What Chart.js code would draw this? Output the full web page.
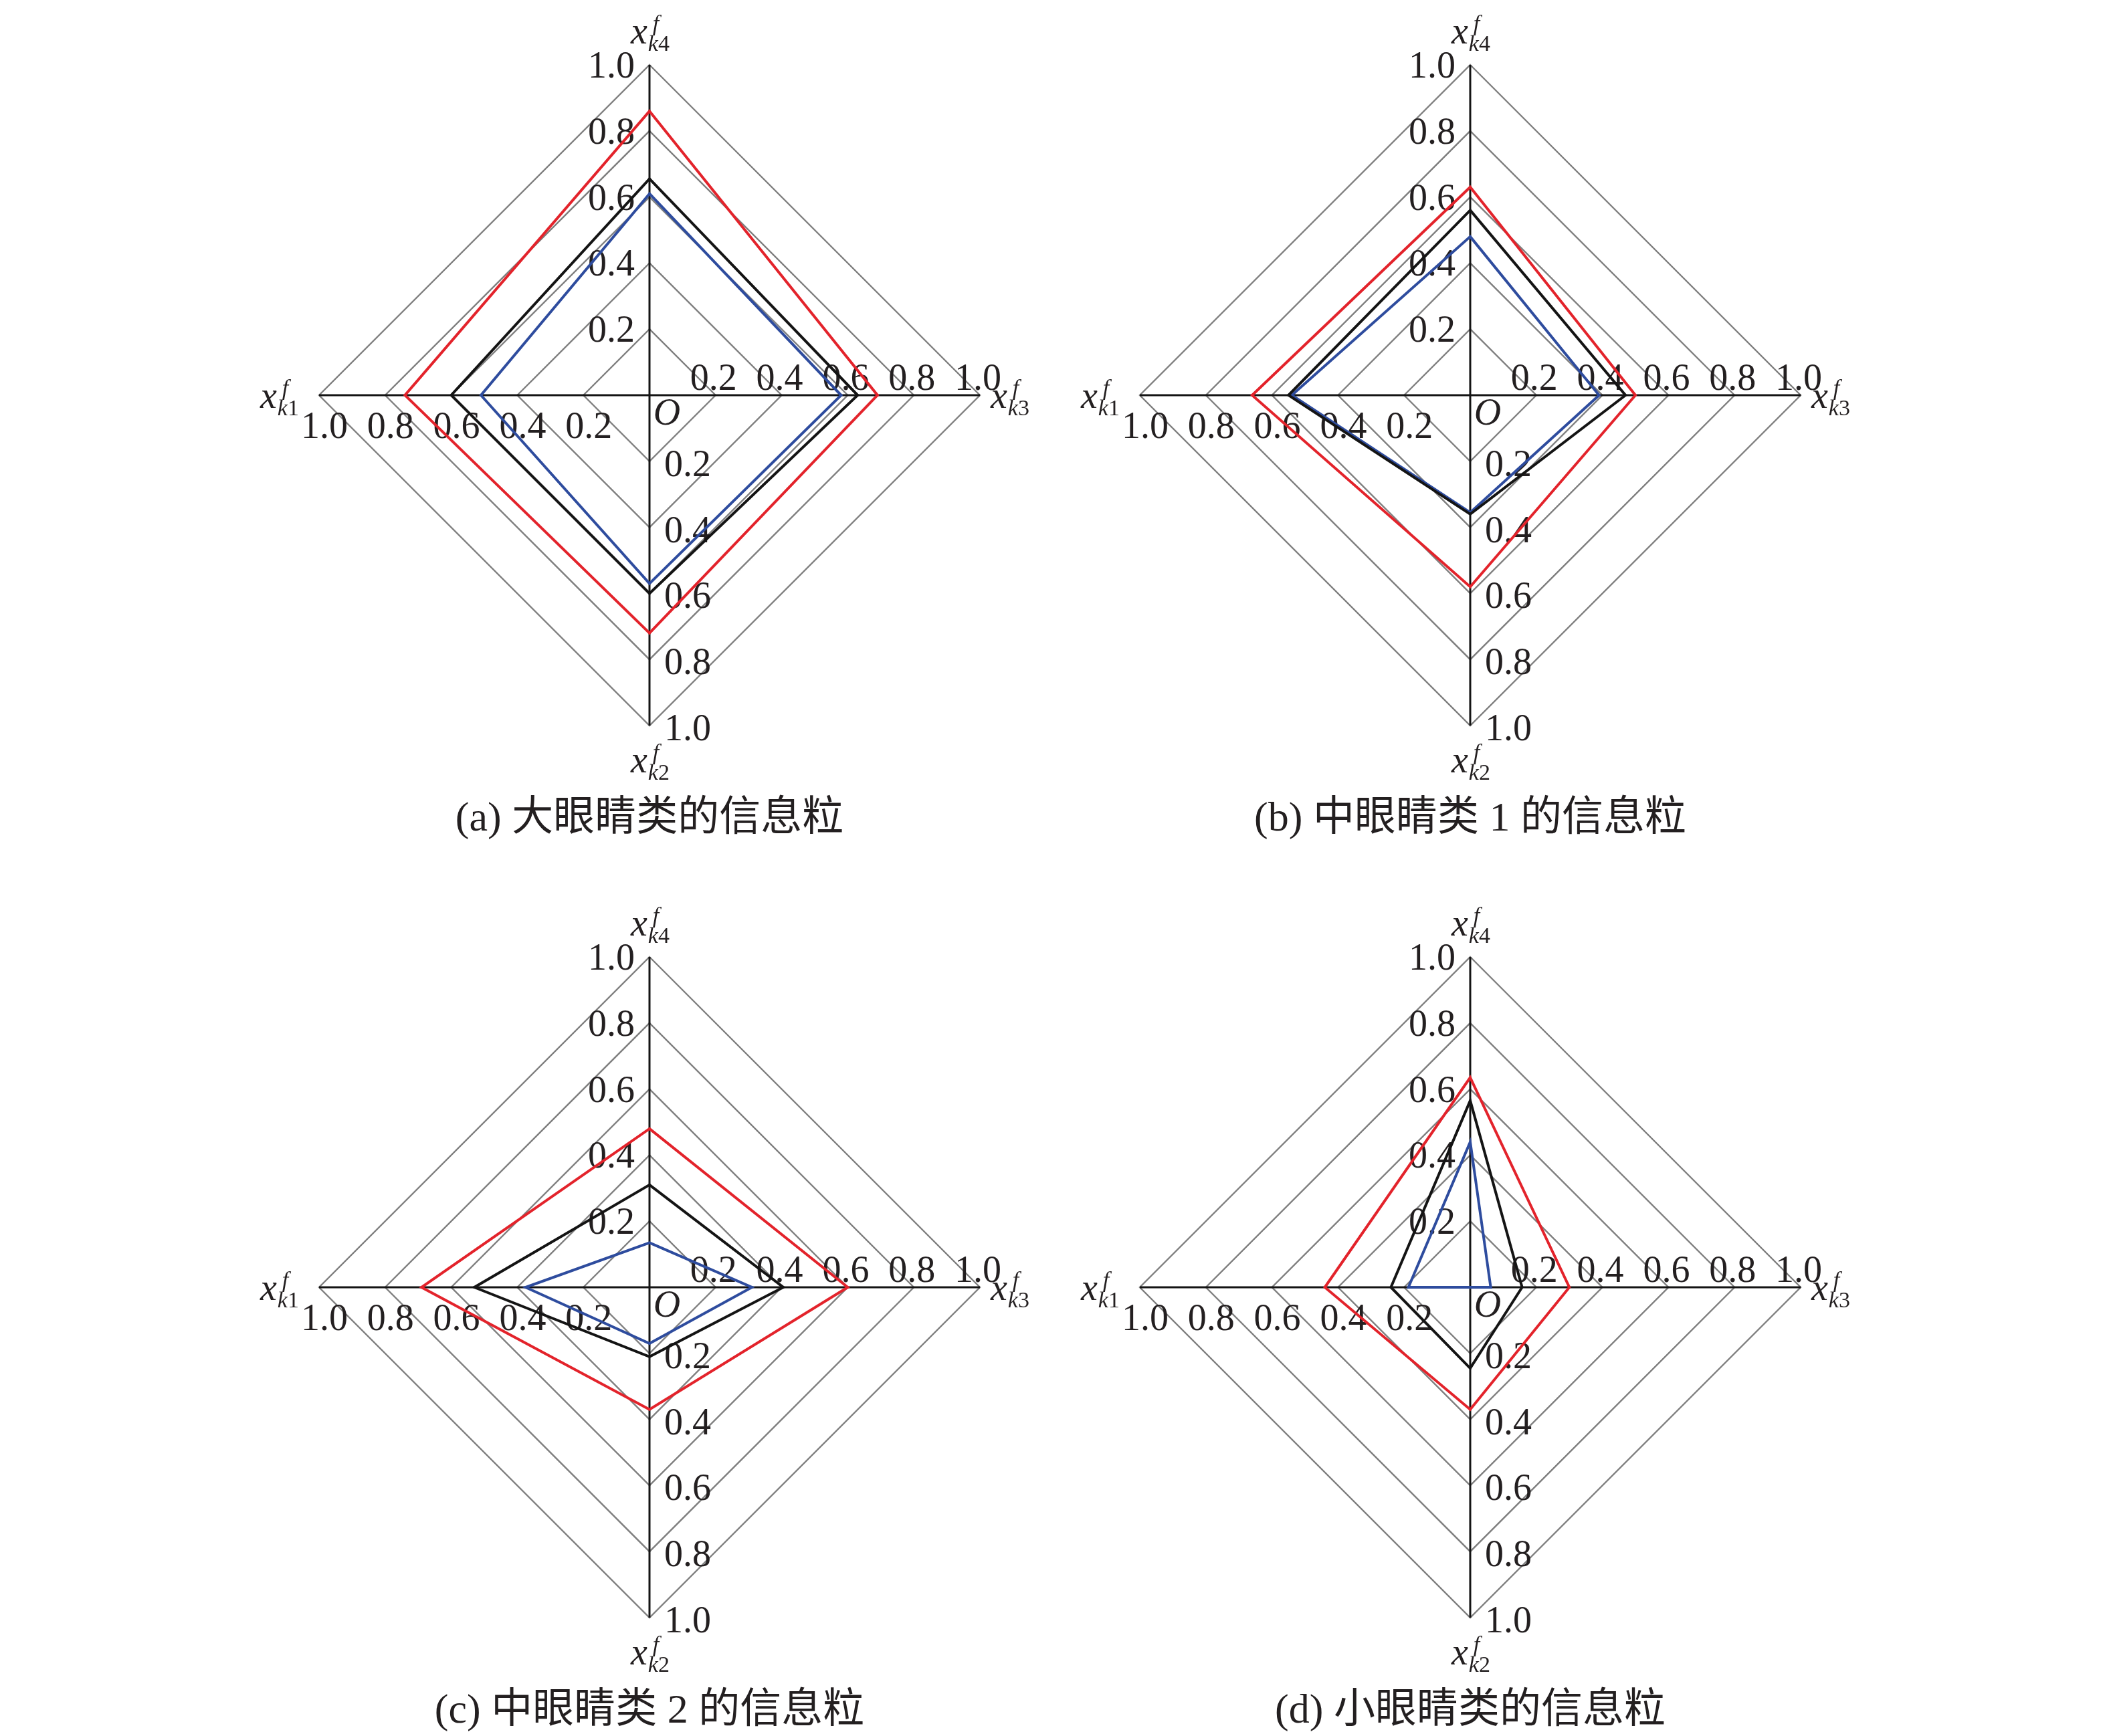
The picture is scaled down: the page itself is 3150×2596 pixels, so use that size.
<!DOCTYPE html>
<html>
<head>
<meta charset="utf-8">
<script src="https://cdn.jsdelivr.net/npm/chart.js@4.4.1/dist/chart.umd.min.js"></script>
<style>
  html, body { margin: 0; padding: 0; background: #fff; }
  body { width: 3150px; height: 2596px; position: relative; overflow: hidden; }
  canvas { position: absolute; }
  .caption {
    position: absolute; width: 1000px; text-align: center;
    font: 62px "Liberation Serif", "Noto Sans CJK SC", serif;
    line-height: 62px; color: #231f20; white-space: pre;
  }
</style>
</head>
<body>
<canvas id="chartA" width="1300" height="1240"></canvas>
<canvas id="chartB" width="1300" height="1240"></canvas>
<canvas id="chartC" width="1300" height="1240"></canvas>
<canvas id="chartD" width="1300" height="1240"></canvas>
<div class="caption" id="capA"></div>
<div class="caption" id="capB"></div>
<div class="caption" id="capC"></div>
<div class="caption" id="capD"></div>

<script>
// ── Data ─────────────────────────────────────────────────
// radar order (clockwise from top): x_k4, x_k3, x_k2, x_k1
const axisNames = ['x_k4', 'x_k3', 'x_k2', 'x_k1'];
const axisSubs  = ['4', '3', '2', '1'];
const tickValues = [0.2, 0.4, 0.6, 0.8, 1.0];
const tickLabels = ['0.2', '0.4', '0.6', '0.8', '1.0'];

const captions = [
  '(a) 大眼睛类的信息粒',
  '(b) 中眼睛类 1 的信息粒',
  '(c) 中眼睛类 2 的信息粒',
  '(d) 小眼睛类的信息粒'
];

// (a) large eyes
const redA   = [0.86, 0.69, 0.72, 0.74];
const blackA = [0.655, 0.63, 0.60, 0.60];
const blueA  = [0.61, 0.58, 0.57, 0.51];
// (b) medium eyes 1
const redB   = [0.63, 0.50, 0.58, 0.66];
const blackB = [0.56, 0.47, 0.36, 0.55];
const blueB  = [0.48, 0.39, 0.355, 0.54];
// (c) medium eyes 2
const redC   = [0.48, 0.60, 0.37, 0.69];
const blackC = [0.31, 0.405, 0.21, 0.53];
const blueC  = [0.135, 0.31, 0.17, 0.375];
// (d) small eyes
const redD   = [0.635, 0.30, 0.37, 0.44];
const blackD = [0.565, 0.157, 0.245, 0.24];
const blueD  = [0.44, 0.062, 0.0, 0.187];

// ── Colours ──────────────────────────────────────────────
const COLOR_RED   = '#e3232b';
const COLOR_BLACK = '#141414';
const COLOR_BLUE  = '#2e4c9e';
const COLOR_GRID  = '#7f7f7f';
const COLOR_TEXT  = '#231f20';

const SERIF = '"Liberation Serif", "Times New Roman", serif';

// ── Label plugin: tick numbers on all four axes, axis names, origin ──
function drawVarLabel(ctx, sub, x, y) {
  ctx.textAlign = 'left';
  ctx.textBaseline = 'alphabetic';
  ctx.font = 'italic 56px ' + SERIF;
  ctx.fillText('x', x, y);
  const w = ctx.measureText('x').width;
  ctx.font = 'italic 34px ' + SERIF;
  ctx.fillText('f', x + w + 8, y - 19);
  ctx.fillText('k', x + w + 1, y + 11);
  const kw = ctx.measureText('k').width;
  ctx.font = '34px ' + SERIF;
  ctx.fillText(sub, x + w + 1 + kw, y + 11);
}

const labelPlugin = {
  id: 'radarLabels',
  beforeDatasetsDraw(chart) {
    const ctx = chart.ctx;
    const r = chart.scales.r;
    const cx = r.xCenter, cy = r.yCenter;
    ctx.save();
    ctx.fillStyle = COLOR_TEXT;
    ctx.font = '56px ' + SERIF;
    ctx.textBaseline = 'alphabetic';

    tickValues.forEach((v, j) => {
      const txt = tickLabels[j];
      for (let i = 0; i < axisNames.length; i++) {
        const p = r.getPointPositionForValue(i, v);
        if (i === 0) {
          ctx.textAlign = 'right';
          ctx.fillText(txt, p.x - 22, p.y + 19);
        } else if (i === 1) {
          ctx.textAlign = 'center';
          ctx.fillText(txt, p.x - 3, p.y - 8);
        } else if (i === 2) {
          ctx.textAlign = 'left';
          ctx.fillText(txt, p.x + 22, p.y + 22);
        } else {
          ctx.textAlign = 'center';
          ctx.fillText(txt, p.x + 8, p.y + 64);
        }
      }
    });

    // origin
    ctx.font = 'italic 56px ' + SERIF;
    ctx.textAlign = 'center';
    ctx.fillText('O', cx + 26, cy + 44);

    // axis names
    const top = r.getPointPositionForValue(0, 1);
    const right = r.getPointPositionForValue(1, 1);
    const bottom = r.getPointPositionForValue(2, 1);
    const left = r.getPointPositionForValue(3, 1);
    drawVarLabel(ctx, axisSubs[0], cx - 28, top.y - 32);
    drawVarLabel(ctx, axisSubs[1], right.x + 16, cy + 19);
    drawVarLabel(ctx, axisSubs[2], cx - 28, bottom.y + 70);
    drawVarLabel(ctx, axisSubs[3], left.x - 88, cy + 19);
    ctx.restore();
  }
};

// ── Panel builder ────────────────────────────────────────
function makeRadar(id, red, black, blue) {
  const ds = (data, color) => ({
    data: data,
    borderColor: color,
    backgroundColor: 'transparent',
    borderWidth: 4,
    fill: false,
    pointRadius: 0,
    tension: 0
  });

  return new Chart(document.getElementById(id), {
    type: 'radar',
    data: {
      labels: axisNames,
      // first dataset is drawn on top
      datasets: [ds(black, COLOR_BLACK), ds(blue, COLOR_BLUE), ds(red, COLOR_RED)]
    },
    options: {
      responsive: false,
      animation: false,
      devicePixelRatio: 1,
      layout: { padding: { left: 156, right: 156, top: 97, bottom: 155 } },
      plugins: {
        legend: { display: false },
        tooltip: { enabled: false }
      },
      scales: {
        r: {
          min: 0,
          max: 1,
          startAngle: 0,
          ticks: { stepSize: 0.2, display: false },
          grid: { color: COLOR_GRID, lineWidth: 2.4 },
          angleLines: { color: COLOR_BLACK, lineWidth: 3 },
          pointLabels: { display: false }
        }
      }
    },
    plugins: [labelPlugin]
  });
}

// ── Layout: chart centres at (971,591), (2198,591), (971,1925), (2198,1925) ──
const panels = [
  { id: 'chartA', cap: 'capA', cx: 971,  cy: 591,  data: [redA, blackA, blueA] },
  { id: 'chartB', cap: 'capB', cx: 2198, cy: 591,  data: [redB, blackB, blueB] },
  { id: 'chartC', cap: 'capC', cx: 971,  cy: 1925, data: [redC, blackC, blueC] },
  { id: 'chartD', cap: 'capD', cx: 2198, cy: 1925, data: [redD, blackD, blueD] }
];

panels.forEach(function (p, k) {
  const cv = document.getElementById(p.id);
  cv.style.left = (p.cx - 650) + 'px';
  cv.style.top  = (p.cy - 591) + 'px';
  makeRadar(p.id, p.data[0], p.data[1], p.data[2]);

  const cap = document.getElementById(p.cap);
  cap.textContent = captions[k];
  cap.style.left = (p.cx - 500) + 'px';
  cap.style.top  = (p.cy + 599) + 'px';
});
</script>
</body>
</html>
